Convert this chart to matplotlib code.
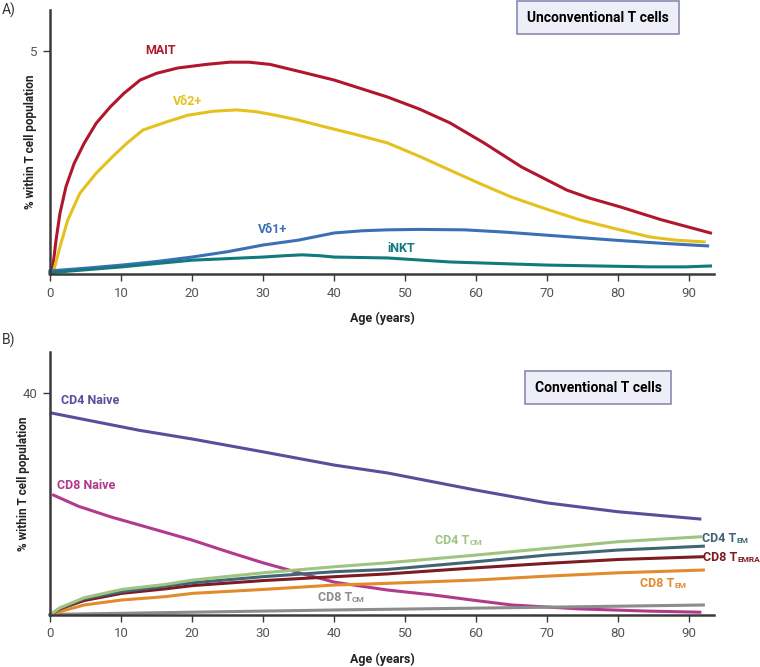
import matplotlib.pyplot as plt
import numpy as np

plt.rcParams['font.family'] = ['Roboto', 'DejaVu Sans']

# Panel A: unconventional T cells (age in years, % within T cell population)
mait_x = [0, 0.4, 0.85, 1.4, 2.25, 3.4, 4.8, 6.5, 8.5, 10.4, 12.7, 15, 18, 22, 25.3, 28, 31,
          35.4, 40, 47.5, 52, 56.3, 61, 66.4, 72.8, 76, 80.4, 86, 93]
mait_y = [0, 0.16, 0.76, 1.36, 1.96, 2.48, 2.93, 3.38, 3.75, 4.05, 4.35, 4.5, 4.62, 4.7, 4.75, 4.75, 4.7,
          4.53, 4.35, 3.97, 3.7, 3.39, 2.95, 2.4, 1.88, 1.7, 1.5, 1.22, 0.92]
vd2_x = [0, 0.55, 1.4, 2.5, 4.2, 6.5, 8.8, 10.8, 13.1, 16.4, 19.4, 23, 26.3, 29, 31.8, 35, 38.7,
         43, 47.5, 52, 56.3, 60.5, 64.9, 70, 74.7, 80, 84.5, 88, 92.1]
vd2_y = [0, 0.09, 0.61, 1.21, 1.81, 2.26, 2.63, 2.93, 3.23, 3.41, 3.56, 3.65, 3.68, 3.64, 3.56, 3.45, 3.3,
         3.13, 2.94, 2.64, 2.33, 2.03, 1.73, 1.45, 1.21, 1.0, 0.83, 0.76, 0.72]
vd1_x = [0, 5, 10.1, 15, 20, 25, 30, 35, 40, 44, 47.5, 51.8, 58.4, 64, 70, 79.4, 86, 92.6]
vd1_y = [0.07, 0.13, 0.2, 0.28, 0.38, 0.5, 0.65, 0.76, 0.92, 0.97, 0.99, 1.0, 0.99, 0.94, 0.87, 0.76, 0.69, 0.63]
inkt_x = [0, 10.1, 20, 30, 33, 35.5, 38, 40, 47.5, 56.3, 70, 84.5, 89.5, 93]
inkt_y = [0.03, 0.16, 0.31, 0.38, 0.41, 0.43, 0.41, 0.38, 0.36, 0.27, 0.2, 0.16, 0.16, 0.18]

# Panel B: conventional T cells
cd4n_x = [0.2, 12.5, 20.1, 30, 40.1, 47.5, 60, 70, 80, 91.5]
cd4n_y = [36.4, 33.3, 31.7, 29.4, 27.0, 25.6, 22.5, 20.2, 18.6, 17.3]
cd8n_x = [0.5, 4, 8.5, 14, 20, 25, 30, 36.2, 40.1, 47.5, 54, 60, 65, 74.5, 84.1, 91.5]
cd8n_y = [21.6, 19.6, 17.7, 15.7, 13.5, 11.4, 9.4, 7.2, 5.9, 4.5, 3.6, 2.6, 1.8, 1.1, 0.7, 0.5]
cd4cm_x = [0, 1.4, 4.8, 10.1, 16.2, 20.1, 30, 40.1, 47.5, 60, 70, 80, 91.6]
cd4cm_y = [0, 1.3, 3.1, 4.6, 5.5, 6.3, 7.6, 8.7, 9.4, 10.8, 12.0, 13.2, 14.1]
cd4em_x = [0, 1.4, 4.8, 10.1, 16.2, 20.1, 30, 40.1, 47.5, 60, 70, 80, 92]
cd4em_y = [0, 1.2, 2.9, 4.2, 5.2, 5.8, 6.9, 7.8, 8.2, 9.6, 10.8, 11.7, 12.4]
cd8emra_x = [0, 1.4, 4.8, 10.1, 16.2, 20.1, 30, 40.1, 47.5, 60, 70, 80, 92]
cd8emra_y = [0, 1.1, 2.6, 3.9, 4.7, 5.3, 6.2, 6.9, 7.4, 8.5, 9.3, 10.0, 10.5]
cd8em_x = [0, 1.4, 4.8, 10.1, 16.2, 20.1, 30, 40.1, 47.5, 60, 70, 80, 92]
cd8em_y = [0, 0.6, 1.8, 2.7, 3.3, 3.9, 4.6, 5.4, 5.7, 6.3, 7.0, 7.6, 8.1]
cd8cm_x = [0, 20, 40, 70, 92]
cd8cm_y = [0.1, 0.5, 0.9, 1.4, 1.8]

age_ticks = [0, 10, 20, 30, 40, 50, 60, 70, 80, 90]

fig = plt.figure(figsize=(7.6, 6.67), dpi=100)
axA = fig.add_axes([0.0658, 0.5892, 0.8737, 0.3958])
axB = fig.add_axes([0.0658, 0.078, 0.8737, 0.3943])

spine_col = '#3a3a3a'
for ax in (axA, axB):
    for s in ('top', 'right'):
        ax.spines[s].set_visible(False)
    for s in ('left', 'bottom'):
        ax.spines[s].set_color(spine_col)
        ax.spines[s].set_linewidth(1.8)
    ax.set_xlim(0, 93.5)
    ax.set_xticks(age_ticks)
    ax.tick_params(direction='out', length=5, width=1, color=spine_col,
                   labelsize=9.5, labelcolor='#555555', pad=4)
    ax.set_xlabel('Age (years)', fontsize=9, fontweight='bold', color='#222222', labelpad=9)
    ax.set_ylabel('% within T cell population', fontsize=8.5, fontweight='bold', color='#222222', labelpad=-5)

lw = 2.2
axA.plot(mait_x, mait_y, color='#B0172F', lw=lw, clip_on=False)
axA.plot(vd2_x, vd2_y, color='#E5C11D', lw=lw, clip_on=False)
axA.plot(vd1_x, vd1_y, color='#3B6FB6', lw=lw, clip_on=False)
axA.plot(inkt_x, inkt_y, color='#117A7C', lw=lw, clip_on=False)
axA.set_ylim(0, 5.92)
axA.set_yticks([5])

axA.text(15.5, 5.02, 'MAIT', color='#B0172F', fontsize=9, fontweight='bold', ha='center', va='center')
axA.text(19.4, 3.86, 'Vδ2+', color='#E5C11D', fontsize=9, fontweight='bold', ha='center', va='center')
axA.text(31.3, 0.99, 'Vδ1+', color='#3B6FB6', fontsize=9, fontweight='bold', ha='center', va='center')
axA.text(49.4, 0.58, 'iNKT', color='#117A7C', fontsize=9, fontweight='bold', ha='center', va='center')

axB.plot(cd4n_x, cd4n_y, color='#5A4E9C', lw=lw, clip_on=False)
axB.plot(cd8n_x, cd8n_y, color='#B23A8C', lw=lw, clip_on=False)
axB.plot(cd8cm_x, cd8cm_y, color='#8C8C8C', lw=lw, clip_on=False)
axB.plot(cd8em_x, cd8em_y, color='#E28B2C', lw=lw, clip_on=False)
axB.plot(cd8emra_x, cd8emra_y, color='#7D1B22', lw=lw, clip_on=False)
axB.plot(cd4em_x, cd4em_y, color='#3F6576', lw=lw, clip_on=False)
axB.plot(cd4cm_x, cd4cm_y, color='#9EC480', lw=lw, clip_on=False)
axB.set_ylim(0, 47.4)
axB.set_yticks([40])

axB.text(1.5, 38.6, 'CD4 Naive', color='#5A4E9C', fontsize=9, fontweight='bold', ha='left', va='center')
axB.text(1.0, 23.3, 'CD8 Naive', color='#B23A8C', fontsize=9, fontweight='bold', ha='left', va='center')


def sub_label(ax, x, y, main, sub, color):
    t = ax.text(x, y, main, color=color, fontsize=9, fontweight='bold', ha='left', va='center')
    ax.annotate(sub, xy=(1, 0.08), xycoords=t, color=color, fontsize=6, fontweight='bold',
                ha='left', va='bottom')


sub_label(axB, 54.2, 13.5, 'CD4 T', 'CM', '#9EC480')
sub_label(axB, 91.8, 13.7, 'CD4 T', 'EM', '#3F6576')
sub_label(axB, 92.0, 10.3, 'CD8 T', 'EMRA', '#7D1B22')
sub_label(axB, 83.1, 5.6, 'CD8 T', 'EM', '#E28B2C')
sub_label(axB, 37.7, 3.2, 'CD8 T', 'CM', '#8C8C8C')

box = dict(boxstyle='square,pad=0.7', facecolor='#EEEEF8', edgecolor='#8A8AB0', lw=1.2)
fig.text(598 / 760, 1 - 17.5 / 667, 'Unconventional T cells', fontsize=10, fontweight='bold',
         ha='center', va='center', bbox=box)
fig.text(598 / 760, 1 - 387.5 / 667, 'Conventional T cells', fontsize=10, fontweight='bold',
         ha='center', va='center', bbox=box)

fig.text(0.002, 1 - 10 / 667, 'A)', fontsize=10, color='#333333', va='center', ha='left')
fig.text(0.002, 1 - 340 / 667, 'B)', fontsize=10, color='#333333', va='center', ha='left')

fig.savefig('out.png', dpi=100)
